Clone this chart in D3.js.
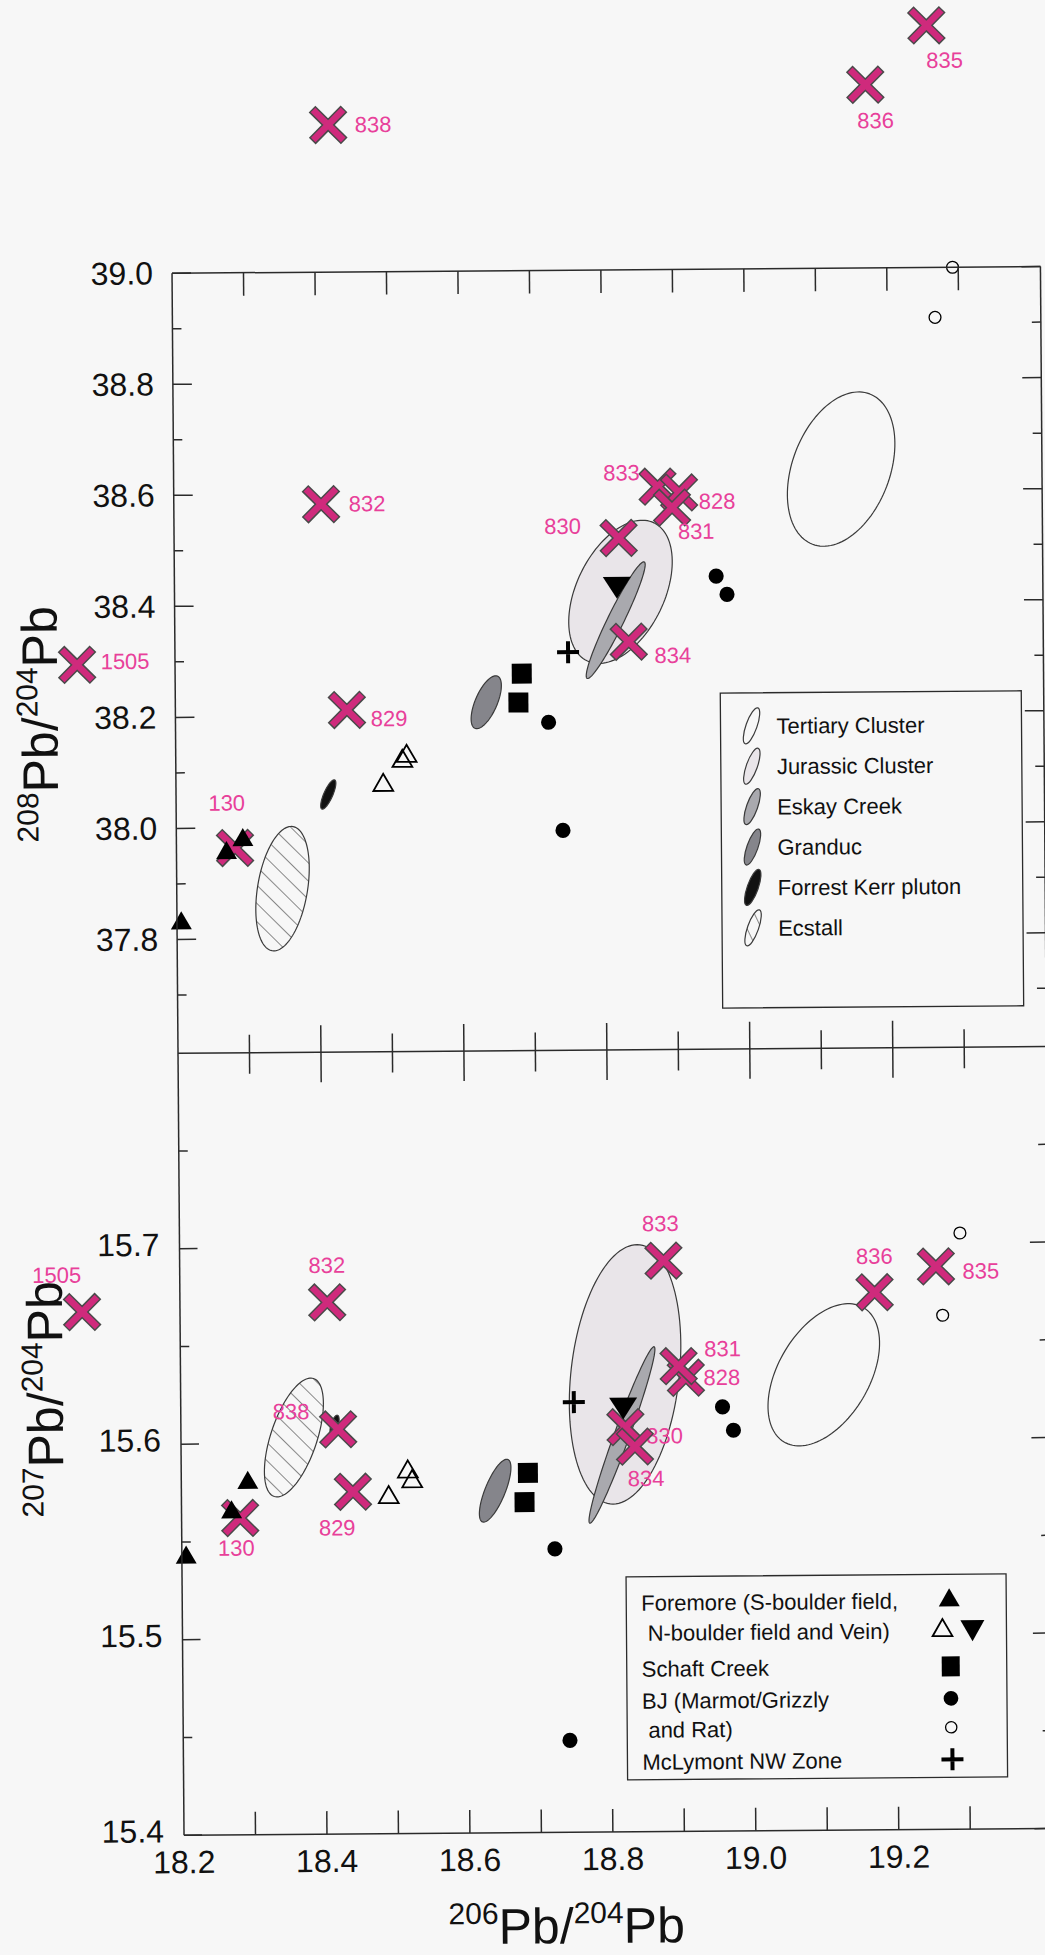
<!DOCTYPE html>
<html>
<head>
<meta charset="utf-8">
<script src="https://cdn.jsdelivr.net/npm/d3@7"></script>
<style>
body{margin:0;background:#f7f7f7}
svg{display:block}
</style>
</head>
<body>
<svg id="fig" width="1045" height="1955"></svg>
<script>
// ---------- data ----------
// samples (crosses): 206Pb/204Pb, 207Pb/204Pb, 208Pb/204Pb
const sampleIds = ["838","836","835","832","830","833","828","831","834","829","1505","130"];
const sample206 = [18.420,19.172,19.258,18.406,18.822,18.877,18.907,18.897,18.835,18.440,18.063,18.282];
const sample207 = [15.607,15.675,15.688,15.672,15.607,15.692,15.632,15.638,15.597,15.575,15.668,15.562];
const sample208 = [39.265,39.330,39.436,38.582,38.517,38.609,38.598,38.571,38.330,38.211,38.296,37.964];

// Foremore S-boulder field (filled up triangles)
const foreS206 = [18.270,18.293,18.206];
const foreS207 = [15.565,15.580,15.542];
const foreS208 = [37.955,37.978,37.829];
// Foremore N-boulder field (open triangles)
const foreN206 = [18.490,18.517,18.523];
const foreN207 = [15.572,15.585,15.580];
const foreN208 = [38.075,38.118,38.127];
// Foremore vein (filled down triangle)
const foreV206 = [18.819];
const foreV207 = [15.617];
const foreV208 = [38.429];
// Schaft Creek (squares)
const schaft206 = [18.685,18.680];
const schaft207 = [15.584,15.569];
const schaft208 = [38.274,38.222];
// BJ Marmot/Grizzly (filled dots)
const bjMG206 = [18.722,18.741,18.958,18.973];
const bjMG207 = [15.545,15.447,15.617,15.605];
const bjMG208 = [38.186,37.991,38.447,38.414];
// BJ Rat (open circles)
const bjRat206 = [19.292,19.267];
const bjRat207 = [15.705,15.663];
const bjRat208 = [39.000,38.910];
// McLymont NW Zone (plus)
const mcl206 = [18.750];
const mcl207 = [15.620];
const mcl208 = [38.312];

// fields: centre and two conjugate semi-axes, in data units
const fieldNames = ["Tertiary Cluster","Jurassic Cluster","Eskay Creek","Granduc","Forrest Kerr pluton","Ecstall"];
const fields208 = [
  [19.134,38.638, 0.0408,0.1350, 0.0635,-0.0319],
  [18.824,38.420, 0.0476,0.1238, 0.0550,-0.0350],
  [18.817,38.369, 0.0406,0.1045, 0.0101,-0.0065],
  [18.635,38.223, 0.0161,0.0468, 0.0140,-0.0079],
  [18.413,38.059, 0.0091,0.0261, 0.0057,-0.0032],
  [18.348,37.890, 0.0152,0.1117, 0.0344,-0.0077]
];
const fields207 = [
  [19.100,15.633, 0.0568,0.0341, 0.0540,-0.0124],
  [18.822,15.634, 0.0222,0.0662, 0.0751,-0.0035],
  [18.817,15.603, 0.0460,0.0450, 0.0097,-0.0016],
  [18.639,15.575, 0.0182,0.0159, 0.0129,-0.0020],
  [18.415,15.609, 0.0042,0.0052, 0.0049,-0.0005],
  [18.358,15.603, 0.0280,0.0301, 0.0308,-0.0036]
];

const xLabels = ["18.2","18.4","18.6","18.8","19.0","19.2"];
const xMinor = [18.3,18.5,18.7,18.9,19.1,19.3];
const y208Labels = ["37.8","38.0","38.2","38.4","38.6","38.8","39.0"];
const y208Minor = [37.7,37.9,38.1,38.3,38.5,38.7,38.9];
const y207Labels = ["15.4","15.5","15.6","15.7"];
const y207Minor = [15.45,15.55,15.65,15.75];

const legendBottom = ["Foremore (S-boulder field,"," N-boulder field and Vein)","Schaft Creek","BJ (Marmot/Grizzly"," and Rat)","McLymont NW Zone"];

// label placement next to each cross [dx,dy] for the two panels
const lab208 = {"838":[45,0],"836":[10,36],"835":[18,35],"832":[46,0],"830":[-56,-12],"833":[-36,-14],
  "828":[38,9],"831":[24,24],"834":[44,14],"829":[42,9],"1505":[48,-3],"130":[-8,-45]};
const lab207 = {"838":[-47,-18],"836":[0,-36],"835":[45,5],"832":[0,-37],"830":[39,9],"833":[-3,-37],
  "828":[36,0],"831":[44,-17],"834":[11,32],"829":[-16,36],"1505":[-25,-37],"130":[-4,30]};

// ---------- drawing ----------
const W = 1045, H = 1955;
const magenta = "#cf2a7c", pink = "#e8409a", ink = "#2b2b2b";
const tickFont = "'Liberation Sans', Arial, sans-serif";

const svg = d3.select("#fig");
svg.append("rect").attr("width",W).attr("height",H).attr("fill","#f7f7f7");
const defs = svg.append("defs");
defs.append("pattern").attr("id","hatch").attr("patternUnits","userSpaceOnUse")
  .attr("width",13).attr("height",13).attr("patternTransform","rotate(-45)")
  .call(p => p.append("rect").attr("width",13).attr("height",13).attr("fill","#f7f7f7"))
  .append("line").attr("x1",0).attr("y1",0).attr("x2",0).attr("y2",13)
  .attr("stroke",ink).attr("stroke-width",1.1);

// the scanned figure is turned slightly
const g = svg.append("g").attr("transform","rotate(-0.44,600,1050)");

const x = d3.scaleLinear([18.2,19.42],[178,1050]);
const yTop = d3.scaleLinear([39.0,37.595],[270,1050]);
const yBot = d3.scaleLinear([15.8,15.4],[1050,1832]);

const fieldFill = ["none","#e9e5e9","#a9a9ae","#85858b","#111","url(#hatch)"];

function fieldPath(f, y) {
  const [cx,cy,ax,ay,bx,by] = f;
  const pts = d3.range(0, 2*Math.PI, Math.PI/60).map(t =>
    [x(cx + ax*Math.cos(t) + bx*Math.sin(t)), y(cy + ay*Math.cos(t) + by*Math.sin(t))]);
  return d3.line().curve(d3.curveLinearClosed)(pts);
}

function drawCross(sel, px, py) {
  const s = 15;
  const d = `M${px-s},${py-s}L${px+s},${py+s}M${px+s},${py-s}L${px-s},${py+s}`;
  const d2 = `M${px-s-1},${py-s-1}L${px+s+1},${py+s+1}M${px+s+1},${py-s-1}L${px-s-1},${py+s+1}`;
  sel.append("path").attr("d",d2).attr("stroke","#4a4a4a").attr("stroke-width",9.5).attr("fill","none");
  sel.append("path").attr("d",d).attr("stroke",magenta).attr("stroke-width",6.5).attr("fill","none");
}

const sym = (type,size) => d3.symbol().type(type).size(size)();

function drawPanel(y, yv, fields, labs) {
  const p = g.append("g");
  p.selectAll("path.field").data(fields).join("path").attr("class","field")
    .attr("d", f => fieldPath(f, y))
    .attr("fill",(f,i) => fieldFill[i])
    .attr("stroke","#3a3a3a").attr("stroke-width",1.2);
  sampleIds.forEach((id,i) => {
    const px = x(sample206[i]), py = y(yv.sample[i]);
    drawCross(p, px, py);
    p.append("text").attr("x",px + labs[id][0]).attr("y",py + labs[id][1])
      .attr("text-anchor","middle").attr("dominant-baseline","central")
      .attr("font-family",tickFont).attr("font-size",22).attr("fill",pink).text(id);
  });
  const put = (xs, ys, path, fill, stroke, sw) => {
    p.selectAll(null).data(xs).join("path")
      .attr("transform",(d,i) => `translate(${x(d)},${y(ys[i])})`)
      .attr("d",path).attr("fill",fill).attr("stroke",stroke).attr("stroke-width",sw);
  };
  put(foreS206, yv.foreS, sym(d3.symbolTriangle,190), "#000", "none", 0);
  put(foreN206, yv.foreN, sym(d3.symbolTriangle,170), "none", "#000", 1.8);
  put(foreV206, yv.foreV, "M-14,-10L14,-10L0,12Z", "#000", "none", 0);
  put(schaft206, yv.schaft, "M-10,-10H10V10H-10Z", "#000", "none", 0);
  put(bjMG206, yv.bjMG, sym(d3.symbolCircle,180), "#000", "none", 0);
  put(bjRat206, yv.bjRat, sym(d3.symbolCircle,110), "none", "#000", 1.3);
  put(mcl206, yv.mcl, "M-11,0H11M0,-11V11", "none", "#000", 4);
}

drawPanel(yTop, {sample:sample208, foreS:foreS208, foreN:foreN208, foreV:foreV208, schaft:schaft208,
  bjMG:bjMG208, bjRat:bjRat208, mcl:mcl208}, fields208, lab208);
drawPanel(yBot, {sample:sample207, foreS:foreS207, foreN:foreN207, foreV:foreV207, schaft:schaft207,
  bjMG:bjMG207, bjRat:bjRat207, mcl:mcl207}, fields207, lab207);

// ---------- frame and ticks ----------
const ax = g.append("g").attr("stroke",ink).attr("stroke-width",1.5).attr("fill","none");
const x0 = x(18.2), x1 = x(19.415);
ax.append("line").attr("x1",x0).attr("x2",x0).attr("y1",yTop(39.0)).attr("y2",yBot(15.4));
ax.append("line").attr("x1",x1).attr("x2",x1).attr("y1",yTop(39.0)).attr("y2",yBot(15.4));
ax.append("line").attr("x1",x0).attr("x2",x1).attr("y1",yTop(39.0)).attr("y2",yTop(39.0));
ax.append("line").attr("x1",x0).attr("x2",x1).attr("y1",yBot(15.8)).attr("y2",yBot(15.8));
ax.append("line").attr("x1",x0).attr("x2",x1).attr("y1",yBot(15.4)).attr("y2",yBot(15.4));

const xMajor = xLabels.map(Number);
const allX = xMajor.concat(xMinor).filter(v => v > 18.25);
allX.forEach(v => {
  const px = x(v), major = xMajor.includes(v);
  ax.append("line").attr("x1",px).attr("x2",px).attr("y1",yTop(39.0)).attr("y2",yTop(39.0)+23);
  ax.append("line").attr("x1",px).attr("x2",px).attr("y1",yBot(15.4)).attr("y2",yBot(15.4)-23);
  ax.append("line").attr("x1",px).attr("x2",px)
    .attr("y1",yBot(15.8) - (major ? 27 : 18)).attr("y2",yBot(15.8) + (major ? 30 : 21));
});
function yTicks(scale, vals, len) {
  vals.forEach(v => {
    ax.append("line").attr("x1",x0).attr("x2",x0+len).attr("y1",scale(v)).attr("y2",scale(v));
    ax.append("line").attr("x1",x1).attr("x2",x1-len).attr("y1",scale(v)).attr("y2",scale(v));
  });
}
yTicks(yTop, y208Labels.map(Number), 19);
yTicks(yTop, y208Minor, 9);
yTicks(yBot, y207Labels.map(Number), 18);
yTicks(yBot, y207Minor, 9);

const lab = g.append("g").attr("font-family",tickFont).attr("font-size",32).attr("fill","#111");
y208Labels.forEach(t => lab.append("text").attr("x",x0-19).attr("y",yTop(+t))
  .attr("text-anchor","end").attr("dominant-baseline","central").text(t));
y207Labels.forEach(t => lab.append("text").attr("x",x0-20).attr("y",yBot(+t)-4)
  .attr("text-anchor","end").attr("dominant-baseline","central").text(t));
xLabels.forEach(t => lab.append("text").attr("x",x(+t)).attr("y",yBot(15.4)+38)
  .attr("text-anchor","middle").text(t));

// axis titles
function title(sel, a, b) {
  sel.append("tspan").attr("font-size",30).attr("dy",-20).text(a);
  sel.append("tspan").attr("font-size",50).attr("dy",20).text("Pb/");
  sel.append("tspan").attr("font-size",30).attr("dy",-20).text(b);
  sel.append("tspan").attr("font-size",50).attr("dy",20).text("Pb");
}
g.append("text").attr("font-family",tickFont).attr("fill","#111").attr("text-anchor","middle")
  .attr("transform","translate(60,720) rotate(-90)").call(s => title(s,"208","204"));
g.append("text").attr("font-family",tickFont).attr("fill","#111").attr("text-anchor","middle")
  .attr("transform","translate(60,1395) rotate(-90)").call(s => title(s,"207","204"));
g.append("text").attr("font-family",tickFont).attr("fill","#111").attr("text-anchor","middle")
  .attr("x",560).attr("y",1943).call(s => title(s,"206","204"));

// ---------- legends ----------
const legFont = "'Liberation Sans', Arial, sans-serif";
const lt = g.append("g");
lt.append("rect").attr("x",723).attr("y",694).attr("width",301).attr("height",315)
  .attr("fill","#f7f7f7").attr("stroke",ink).attr("stroke-width",1.3);
fieldNames.forEach((n,i) => {
  const cy = 727 + i*40.4;
  lt.append("ellipse").attr("cx",754).attr("cy",cy).attr("rx",5.5).attr("ry",19)
    .attr("transform",`rotate(20,754,${cy})`)
    .attr("fill", i === 0 ? "#f7f7f7" : fieldFill[i]).attr("stroke","#3a3a3a").attr("stroke-width",1.2);
  lt.append("text").attr("x",779).attr("y",cy+8).attr("font-family",legFont).attr("font-size",22)
    .attr("fill","#111").text(n);
});

const lb = g.append("g");
lb.append("rect").attr("x",622).attr("y",1577).attr("width",380).attr("height",203)
  .attr("fill","#f7f7f7").attr("stroke",ink).attr("stroke-width",1.3);
const rowY = [1603,1633,1669,1701,1730,1762];
legendBottom.forEach((t,i) => lb.append("text").attr("x",637).attr("y",rowY[i]+8)
  .attr("font-family",legFont).attr("font-size",22).attr("fill","#111").attr("xml:space","preserve").text(t));
const lsym = (px,py,d,fill,stroke,sw) => lb.append("path").attr("transform",`translate(${px},${py})`)
  .attr("d",d).attr("fill",fill).attr("stroke",stroke).attr("stroke-width",sw);
lsym(945,rowY[0],sym(d3.symbolTriangle,190),"#000","none",0);
lsym(938,rowY[1],sym(d3.symbolTriangle,170),"none","#000",1.8);
lsym(968,rowY[1],"M-12,-10L12,-10L0,11Z","#000","none",0);
lsym(946,rowY[2],"M-9,-10H9V10H-9Z","#000","none",0);
lsym(946,rowY[3],sym(d3.symbolCircle,170),"#000","none",0);
lsym(946,rowY[4],sym(d3.symbolCircle,100),"none","#000",1.3);
lsym(947,rowY[5],"M-11,0H11M0,-11V11","none","#000",4);
</script>
</body>
</html>
